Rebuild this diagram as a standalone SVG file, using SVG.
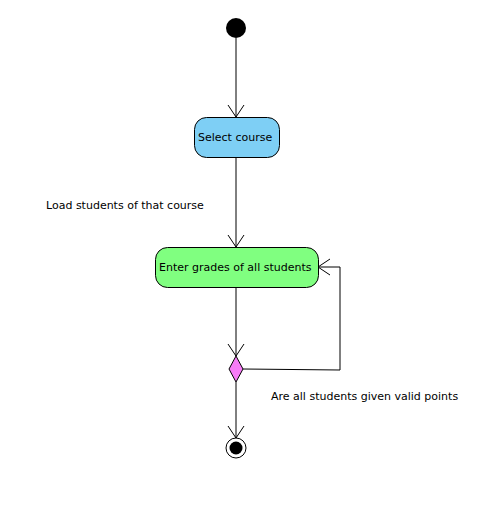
<svg xmlns="http://www.w3.org/2000/svg" width="484" height="521" viewBox="0 0 484 521">
<style>
text{font-family:"DejaVu Sans",sans-serif;font-size:11px;fill:#000}
.node{stroke:#000;stroke-width:1}
.edge{fill:none;stroke:#000;stroke-width:1}
</style>
<defs>
<marker id="arr" viewBox="0 0 14 18" refX="13" refY="9" markerWidth="14" markerHeight="18" markerUnits="userSpaceOnUse" orient="auto">
<path d="M1,1 L13,9 L1,17" fill="none" stroke="#000" stroke-width="1"/>
</marker>
</defs>
<rect width="484" height="521" fill="#fff"/>
<g id="connectors">
<path class="edge" d="M236,38 L236,117" marker-end="url(#arr)"/>
<path class="edge" d="M236,157 L236,247" marker-end="url(#arr)"/>
<path class="edge" d="M236,287 L236,356" marker-end="url(#arr)"/>
<path class="edge" d="M243,369 L340,370 L340,267 L318,267" marker-end="url(#arr)"/>
<path class="edge" d="M236,382 L236,438" marker-end="url(#arr)"/>
<text x="46" y="209">Load students of that course</text>
<text x="271" y="400">Are all students given valid points</text>
</g>
<g id="start"><circle cx="236" cy="28" r="10" fill="#000"/></g>
<g id="select"><rect class="node" x="194.5" y="117.5" width="85" height="40" rx="12" fill="#7ecff5"/><text x="198" y="141">Select course</text></g>
<g id="enter"><rect class="node" x="155.5" y="247.5" width="163" height="40" rx="12" fill="#80ff80"/><text x="159" y="271">Enter grades of all students</text></g>
<g id="decision"><polygon class="node" points="236,356 243,369 236,382 229,369" fill="#f77cf7"/></g>
<g id="end"><circle cx="236" cy="448" r="10" fill="#fff" stroke="#000"/><circle cx="236" cy="448" r="6.5" fill="#000"/></g>
</svg>
